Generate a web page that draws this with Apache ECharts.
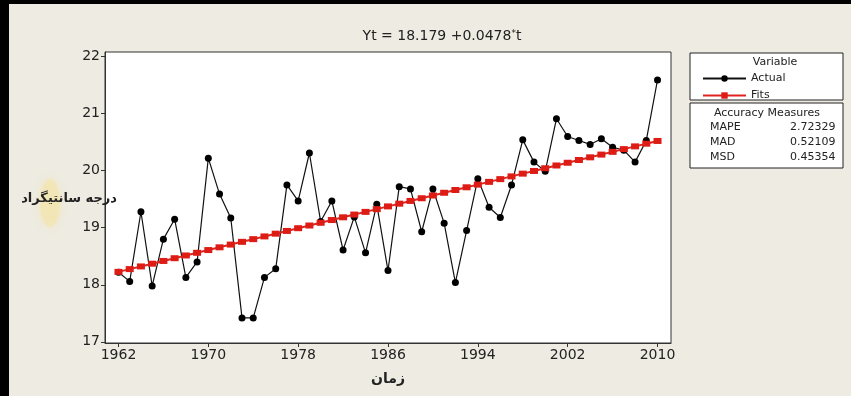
<!DOCTYPE html>
<html><head><meta charset="utf-8">
<script src="https://cdn.jsdelivr.net/npm/echarts@6/dist/echarts.min.js"></script>
<style>html,body{margin:0;padding:0;background:#eeebe2}#c{width:851px;height:396px}</style>
</head><body><div id="c"></div>
<script>
var years = [1962,1963,1964,1965,1966,1967,1968,1969,1970,1971,1972,1973,1974,1975,1976,1977,1978,1979,1980,1981,1982,1983,1984,1985,1986,1987,1988,1989,1990,1991,1992,1993,1994,1995,1996,1997,1998,1999,2000,2001,2002,2003,2004,2005,2006,2007,2008,2009,2010];
var actual = [18.22,18.06,19.28,17.98,18.80,19.15,18.13,18.40,20.22,19.59,19.17,17.42,17.42,18.13,18.28,19.75,19.47,20.31,19.11,19.47,18.61,19.19,18.56,19.41,18.25,19.72,19.68,18.93,19.68,19.08,18.04,18.95,19.86,19.36,19.18,19.75,20.54,20.15,19.99,20.91,20.60,20.53,20.46,20.56,20.41,20.36,20.15,20.53,21.59];
var fits = [18.227,18.275,18.322,18.370,18.418,18.466,18.514,18.561,18.609,18.657,18.705,18.753,18.800,18.848,18.896,18.944,18.992,19.039,19.087,19.135,19.183,19.231,19.278,19.326,19.374,19.422,19.470,19.517,19.565,19.613,19.661,19.709,19.756,19.804,19.852,19.900,19.948,19.995,20.043,20.091,20.139,20.187,20.234,20.282,20.330,20.378,20.426,20.473,20.521];
var xTicks = [1962,1970,1978,1986,1994,2002,2010];
var yTicks = [17,18,19,20,21,22];
var measures = [["MAPE","2.72329"],["MAD","0.52109"],["MSD","0.45354"]];

var F = '"DejaVu Sans", Verdana, sans-serif';
var chart = echarts.init(document.getElementById('c'));
function pairs(v){ return years.map(function(y,i){ return [y, v[i]]; }); }

var graphics = [
  {type:'rect', shape:{x:0,y:0,width:851,height:4}, style:{fill:'#000'}, z:10},
  {type:'rect', shape:{x:0,y:0,width:9,height:396}, style:{fill:'#000'}, z:10},
  {type:'ellipse', shape:{cx:50,cy:203,rx:10,ry:24}, style:{fill:'#f2e5b0', opacity:0.7, shadowBlur:8, shadowColor:'#f2e5b0'}, z:1},
  {type:'text', style:{text:'درجه سانتیگراد', x:117, y:199, align:'right', verticalAlign:'middle', font:'bold 13px "DejaVu Sans", sans-serif', fill:'#222'}, z:5},
  {type:'rect', shape:{x:690,y:53,width:153,height:47}, style:{fill:'#fff', stroke:'#222', lineWidth:1}, z:2},
  {type:'text', style:{text:'Variable', x:775, y:62, align:'center', verticalAlign:'middle', font:'11px '+F, fill:'#222'}, z:3},
  {type:'rect', shape:{x:690,y:103,width:153,height:65}, style:{fill:'#fff', stroke:'#222', lineWidth:1}, z:2},
  {type:'text', style:{text:'Accuracy Measures', x:767, y:113, align:'center', verticalAlign:'middle', font:'11px '+F, fill:'#222'}, z:3}
];
measures.forEach(function(m,i){
  graphics.push({type:'text', style:{text:m[0], x:710, y:127+i*15, align:'left', verticalAlign:'middle', font:'11px '+F, fill:'#222'}, z:3});
  graphics.push({type:'text', style:{text:m[1], x:790, y:127+i*15, align:'left', verticalAlign:'middle', font:'11px '+F, fill:'#222'}, z:3});
});

chart.setOption({
  backgroundColor:'#eeebe2',
  animation:false,
  title:{text:'Yt = 18.179 +0.0478{s|*}t', left:437, top:24, textAlign:'center',
    textStyle:{fontFamily:F, fontSize:14, fontWeight:'normal', color:'#222',
      rich:{s:{fontSize:9, verticalAlign:'top', padding:[0,0,6,0], fontFamily:F, color:'#222'}}}},
  grid:{left:105, top:52, width:566, height:291, show:true, backgroundColor:'#fff', borderColor:'#333', borderWidth:1},
  legend:{orient:'vertical', left:697, top:68, itemWidth:43, itemHeight:8, itemGap:6,
    textStyle:{fontFamily:F, fontSize:11, color:'#222'}, data:['Actual','Fits'], z:4},
  xAxis:{type:'value', min:1960.8, max:2011.2,
    name:'زمان', nameLocation:'middle', nameGap:29,
    nameTextStyle:{fontFamily:'"DejaVu Sans", sans-serif', fontSize:14, fontWeight:'bold', color:'#222'},
    axisLine:{show:true, lineStyle:{color:'#333'}},
    axisTick:{show:true, length:4, customValues:xTicks, lineStyle:{color:'#333'}},
    axisLabel:{customValues:xTicks, formatter:function(v){return String(v);}, fontFamily:F, fontSize:14, color:'#222', margin:5},
    splitLine:{show:false}},
  yAxis:{type:'value', min:16.98, max:22.08,
    axisLine:{show:true, lineStyle:{color:'#333'}},
    axisTick:{show:true, length:4, customValues:yTicks, lineStyle:{color:'#333'}},
    axisLabel:{customValues:yTicks, formatter:function(v){return String(v);}, fontFamily:F, fontSize:14, color:'#222', margin:5},
    splitLine:{show:false}},
  series:[
    {name:'Actual', type:'line', data:pairs(actual), symbol:'circle', symbolSize:7,
      lineStyle:{color:'#111', width:1.2}, itemStyle:{color:'#000'}, z:3},
    {name:'Fits', type:'line', data:pairs(fits), symbol:'rect', symbolSize:[8,6],
      lineStyle:{color:'#e0251e', width:2}, itemStyle:{color:'#dd1c16'}, z:4}
  ],
  graphic:graphics
});
</script></body></html>
